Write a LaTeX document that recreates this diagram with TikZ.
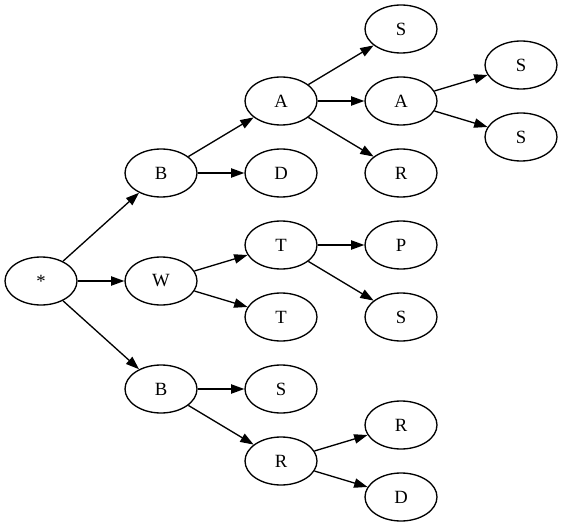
\documentclass[tikz,border=0pt]{standalone}
\usepackage{fontspec}
\setmainfont{Liberation Serif}
\usetikzlibrary{arrows.meta,shapes.geometric}
\begin{document}
\begin{tikzpicture}[x=0.75pt,y=-0.75pt,
  nd/.style={draw, ellipse, minimum width=54pt, minimum height=36pt, inner sep=0pt, line width=1pt, font=\fontsize{14}{16}\selectfont},
  ed/.style={-{Triangle[length=10pt,width=7pt]}, line width=1pt}]
\useasboundingbox (0,0) rectangle (563,527);
\node[nd] (root) at (41,281) {*};
\node[nd] (b1) at (161,173) {B};
\node[nd] (w) at (161,281) {W};
\node[nd] (b2) at (161,389) {B};
\node[nd] (a1) at (281,101) {A};
\node[nd] (d1) at (281,173) {D};
\node[nd] (t1) at (281,245) {T};
\node[nd] (t2) at (281,317) {T};
\node[nd] (s1) at (281,389) {S};
\node[nd] (r1) at (281,461) {R};
\node[nd] (s2) at (401,29) {S};
\node[nd] (a2) at (401,101) {A};
\node[nd] (r2) at (401,173) {R};
\node[nd] (p) at (401,245) {P};
\node[nd] (s3) at (401,317) {S};
\node[nd] (r3) at (401,425) {R};
\node[nd] (d2) at (401,497) {D};
\node[nd] (s4) at (521,65) {S};
\node[nd] (s5) at (521,137) {S};
\draw[ed] (root) -- (b1);
\draw[ed] (root) -- (w);
\draw[ed] (root) -- (b2);
\draw[ed] (b1) -- (a1);
\draw[ed] (b1) -- (d1);
\draw[ed] (w) -- (t1);
\draw[ed] (w) -- (t2);
\draw[ed] (b2) -- (s1);
\draw[ed] (b2) -- (r1);
\draw[ed] (a1) -- (s2);
\draw[ed] (a1) -- (a2);
\draw[ed] (a1) -- (r2);
\draw[ed] (t1) -- (p);
\draw[ed] (t1) -- (s3);
\draw[ed] (r1) -- (r3);
\draw[ed] (r1) -- (d2);
\draw[ed] (a2) -- (s4);
\draw[ed] (a2) -- (s5);
\end{tikzpicture}
\end{document}
